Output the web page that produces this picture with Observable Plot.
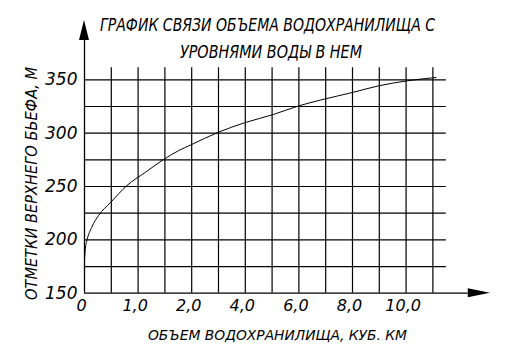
<!DOCTYPE html>
<html><head><meta charset="utf-8">
<script src="https://cdn.jsdelivr.net/npm/d3@7"></script>
<script src="https://cdn.jsdelivr.net/npm/@observablehq/plot@0.6"></script>
<style>body{margin:0;background:#fff} svg{display:block}</style>
</head><body><div id="chart"></div>
<script>
// Volume in drawing grid units (one grid cell per unit), level in metres
const volume = [0, 0.03, 0.09, 0.27, 0.52, 0.98, 1.58, 2.27, 2.98, 3.51, 3.96, 4.98, 6.02, 7.02, 8.01, 8.82, 10.01, 11.0, 12.06, 13.12];
const level  = [181.3, 191.6, 199.3, 211.8, 222.7, 235.2, 250.8, 263.3, 275.8, 283.6, 288.9, 300.7, 310.1, 317.3, 325.7, 331.1, 338.2, 344.5, 349.1, 352.2];
const xTickPos = [0, 2, 4, 6, 8, 10, 12];
const xTickLabels = ["0", "1,0", "2,0", "4,0", "6,0", "8,0", "10,0"];
const yTicks = [150, 200, 250, 300, 350];
const xGrid = [1, 2, 3, 4, 5, 6, 7, 8, 9, 10, 11, 12, 13];
const yGrid = [175, 200, 225, 250, 275, 300, 325, 350];
const titleLines = ["ГРАФИК СВЯЗИ ОБЪЕМА ВОДОХРАНИЛИЩА С", "УРОВНЯМИ ВОДЫ В НЕМ"];
const xTitle = "ОБЪЕМ ВОДОХРАНИЛИЩА, КУБ. КМ";
const yTitle = "ОТМЕТКИ ВЕРХНЕГО БЬЕФА, М";

const data = volume.map((v, i) => ({v, h: level[i]}));
const FONT = "DejaVu Sans, sans-serif";

const plot = Plot.plot({
  width: 517, height: 348,
  marginLeft: 84, marginRight: 27, marginTop: 20, marginBottom: 55.3,
  x: {domain: [0, 15.15]},
  y: {domain: [150, 405.6]},
  style: {fontFamily: FONT, fontStyle: "italic", fontSize: "16px", background: "white", color: "black"},
  marks: [
    Plot.ruleX(xGrid, {y1: 150, y2: 361.3, stroke: "black", strokeWidth: 1.2}),
    Plot.ruleY(yGrid, {x1: 0, x2: 13.5, stroke: "black", strokeWidth: 1.2}),
    Plot.ruleX([0], {y1: 150, y2: 386.8, stroke: "black", strokeWidth: 1.3}),
    Plot.ruleY([150], {x1: 0, x2: 14.32, stroke: "black", strokeWidth: 1.3}),
    Plot.line(data, {x: "v", y: "h", stroke: "black", strokeWidth: 1, curve: "monotone-x"}),
    Plot.axisX({ticks: xTickPos, tickFormat: (d, i) => xTickLabels[i], tickSize: 0, tickPadding: 6, dx: -3, label: null, fontWeight: 300}),
    Plot.axisY({ticks: yTicks, tickSize: 0, tickPadding: 7, label: null, fontWeight: 300, fontSize: 17})
  ]
});
document.getElementById("chart").appendChild(plot);

const svg = d3.select(plot);
const sx = plot.scale("x").apply, sy = plot.scale("y").apply;
// arrow heads
const ox = sx(0), oy = sy(150);
svg.append("path").attr("d", `M${ox},${sy(405.6)}L${ox-5},${sy(386.8)}L${ox+5},${sy(386.8)}Z`).attr("fill", "black");
svg.append("path").attr("d", `M${sx(15.15)},${oy}L${sx(14.32)},${oy-4.5}L${sx(14.32)},${oy+4.5}Z`).attr("fill", "black");

function addText(str, x, y, size, len, rotate) {
  const t = svg.append("text").text(str)
    .attr("font-family", FONT).attr("font-style", "italic").attr("font-weight", 300)
    .attr("font-size", size).attr("fill", "black").attr("text-anchor", "start")
    .attr("textLength", len).attr("lengthAdjust", "spacingAndGlyphs");
  if (rotate) t.attr("transform", `translate(${x},${y}) rotate(-90)`).attr("x", 0).attr("y", 0);
  else t.attr("x", x).attr("y", y);
  return t;
}
addText(titleLines[0], 100, 31, 17.5, 335);
addText(titleLines[1], 180, 57.5, 17.5, 182);
addText(xTitle, 148, 340, 14, 259);
addText(yTitle, 37, 300, 16, 233, true);
</script></body></html>
